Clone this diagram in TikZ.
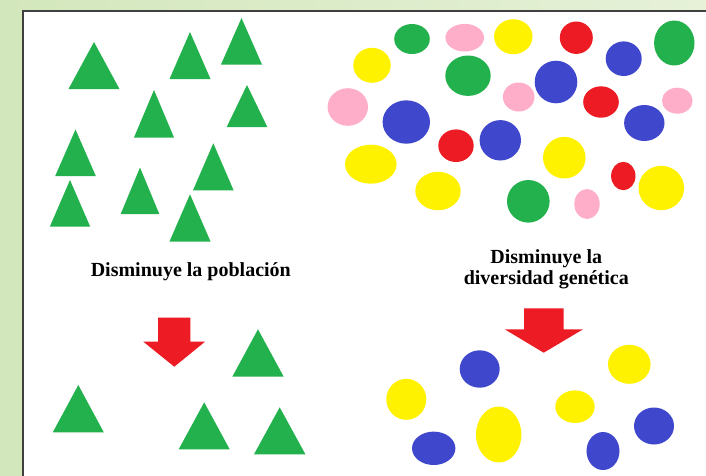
\documentclass[tikz,border=0pt]{standalone}
\usepackage{fontspec}
\setmainfont{Liberation Serif}
\definecolor{Leaf}{HTML}{22B14C}
\definecolor{Sun}{HTML}{FFF200}
\definecolor{Rose}{HTML}{FFAEC9}
\definecolor{Cherry}{HTML}{ED1C24}
\definecolor{Ink}{HTML}{3F48CC}
\definecolor{Meadow}{HTML}{D3E7BC}
\definecolor{MeadowLight}{HTML}{E6F1D8}
\usetikzlibrary{positioning}

\tikzset{
    tri/.style={fill=Leaf},
    dot/.style={fill=#1},
    downarrow/.style={fill=Cherry},
    caption/.style={font=\fontsize{20}{20.5}\selectfont\bfseries, align=center, anchor=base}
}

\begin{document}
\begin{tikzpicture}[x=1pt,y=-1pt]

    \useasboundingbox (0,0) rectangle (706,475);

    % green background
    \shade[left color=Meadow, right color=MeadowLight] (0,0) rectangle (706,475);

    % white panel
    \filldraw[draw=black!75, line width=1.2pt, fill=white] (23,11) rectangle (712,482);

    % triangles before
    \foreach \x/\y/\b/\w in {94/42/89/25.5, 190/32/79/20.5, 241.5/18/64.5/20.5,
        154/90/137.5/20, 247/85/127/20.3, 75.5/129.5/176/20.3, 213.3/143.3/190.3/20.3,
        140/167.5/214/19.3, 70/180/226.7/20.2, 190/194.3/241.5/20.5}
        \fill[tri] (\x,\y) -- (\x+\w,\b) -- (\x-\w,\b) -- cycle;

    % triangles after
    \foreach \x/\y/\b/\w in {78.3/385/432.3/25.5, 258/329.3/376.7/25.7,
        204.2/402.3/449.3/25.5, 279.7/407.3/454.3/25.7}
        \fill[tri] (\x,\y) -- (\x+\w,\b) -- (\x-\w,\b) -- cycle;

    % circles before
    \foreach \x/\y/\rx/\ry/\c in {412/39/17.8/15/Leaf, 464.7/37.7/19.3/13.8/Rose,
        513.3/36.7/19.2/17.5/Sun, 576.3/37.7/16.5/16.2/Cherry, 674.3/43/20.2/22.5/Leaf,
        623.7/58.7/18/17.3/Ink, 372/65.3/18.7/17.5/Sun, 468/75.7/22.7/20.2/Leaf,
        556/82/21.3/21.3/Ink, 347.8/107/20.2/18.8/Rose, 518.7/97/15.8/14.5/Rose,
        601/102/17.8/15.7/Cherry, 677.3/100.7/15.3/13/Rose, 406.3/122/23.7/21.7/Ink,
        644.3/123/20.2/18/Ink, 456/145.7/17.7/16.3/Cherry, 500.3/140.3/20.7/20.2/Ink,
        564.3/157.7/21.3/20.8/Sun, 370.8/164.2/25.8/19.5/Sun, 438/191/22.7/19.2/Sun,
        623.3/176/12.2/14.2/Cherry, 661.3/188/22.8/22.2/Sun, 528.3/201.3/21.3/21.3/Leaf,
        587/204/12.7/15/Rose}
        \fill[dot=\c] (\x,\y) ellipse [x radius=\rx, y radius=\ry];

    % circles after
    \foreach \x/\y/\rx/\ry/\c in {479.7/369/20/18.7/Ink, 406.3/399.3/20/20.5/Sun,
        433.7/448.3/21.7/16.7/Ink, 498.7/434.5/22.7/28/Sun, 575/406.7/19.7/16.3/Sun,
        629.3/364.3/21.3/19.5/Sun, 654/426/20/18.5/Ink, 603/451/16.5/19/Ink}
        \fill[dot=\c] (\x,\y) ellipse [x radius=\rx, y radius=\ry];

    % labels
    \node[caption] (poblacion) at (190.8,276.7) {Disminuye la población};
    \node[caption] (diversidad) at (546.3,284.3) {Disminuye la\\diversidad genética};

    % red arrows
    \fill[downarrow] (158,317.7) -- (190.3,317.7) -- (190.3,341.7) -- (205,341.7)
        -- (174.3,366.7) -- (143.3,341.7) -- (158,341.7) -- cycle;
    \fill[downarrow] (524,308.3) -- (563.7,308.3) -- (563.7,329.3) -- (583,329.3)
        -- (543.7,352.7) -- (504.7,329.3) -- (524,329.3) -- cycle;

\end{tikzpicture}
\end{document}
